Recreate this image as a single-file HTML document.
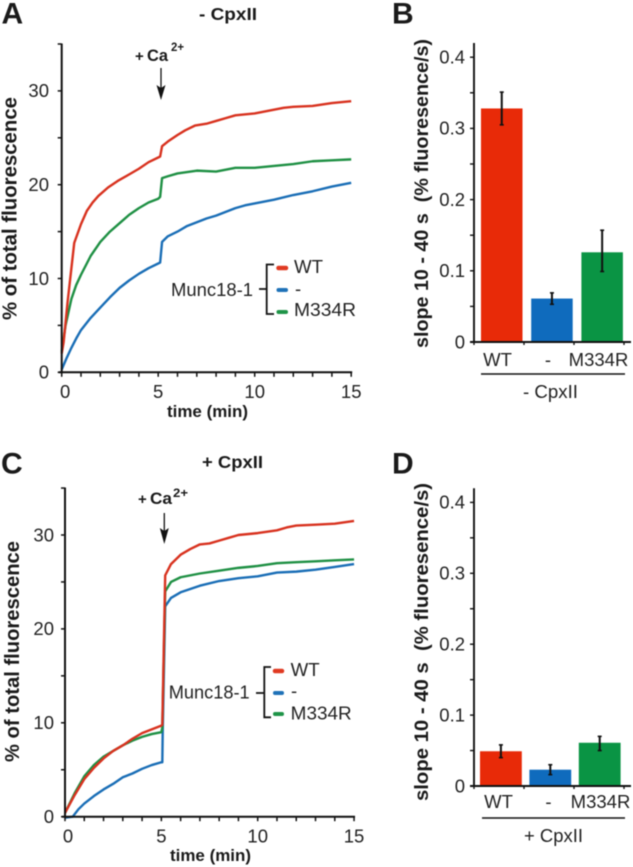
<!DOCTYPE html>
<html>
<head>
<meta charset="utf-8">
<title>Munc18-1 fluorescence charts</title>
<style>
html,body{margin:0;padding:0;background:#fff;width:633px;height:867px;overflow:hidden}
svg{display:block;filter:blur(.4px)}
text{font-family:"Liberation Sans",Arial,sans-serif;fill:#222;white-space:pre}
.b{font-weight:bold;fill:#1a1a1a}
</style>
</head>
<body>
<svg id="figure" width="633" height="867" viewBox="0 0 633 867" xmlns="http://www.w3.org/2000/svg">
  <text class="b" x="1.5" y="23.5" font-size="30">A</text>
  <text class="b" x="392" y="23.5" font-size="30">B</text>
  <text class="b" x="1" y="473.5" font-size="30">C</text>
  <text class="b" x="392" y="473.5" font-size="30">D</text>

  <text class="b" x="199" y="20" font-size="17.5" textLength="58" lengthAdjust="spacingAndGlyphs">- CpxII</text>
  <text class="b" x="202" y="468" font-size="17.5" textLength="61" lengthAdjust="spacingAndGlyphs">+ CpxII</text>

  <text class="b" transform="translate(16.5,320) rotate(-90)" font-size="20.5" textLength="223" lengthAdjust="spacingAndGlyphs">% of total fluorescence</text>
  <text class="b" transform="translate(19,762) rotate(-90)" font-size="20.5" textLength="221" lengthAdjust="spacingAndGlyphs">% of total fluorescence</text>
  <text class="b" transform="translate(428,348) rotate(-90)" font-size="19.5" textLength="309" lengthAdjust="spacingAndGlyphs">slope 10 - 40 s  (% fluoresence/s)</text>
  <text class="b" transform="translate(428,801) rotate(-90)" font-size="19.5" textLength="318" lengthAdjust="spacingAndGlyphs">slope 10 - 40 s  (% fluoresence/s)</text>

  <text class="b" x="167" y="417" font-size="16.5" textLength="81" lengthAdjust="spacingAndGlyphs">time (min)</text>
  <text class="b" x="170" y="861" font-size="16.5" textLength="81" lengthAdjust="spacingAndGlyphs">time (min)</text>

  <g>
    <text class="b" x="135" y="61" font-size="15">+</text>
    <text class="b" x="147" y="61" font-size="17" textLength="21" lengthAdjust="spacingAndGlyphs">Ca</text>
    <text class="b" x="171" y="51" font-size="12" textLength="13" lengthAdjust="spacingAndGlyphs">2+</text>
    <line x1="161" y1="68" x2="161" y2="90" stroke="#111" stroke-width="1.3"/>
    <path d="M156.5 85 L161 100 L165.5 85 L161 88 Z" fill="#111"/>
  </g>
  <g>
    <text class="b" x="138" y="504" font-size="15">+</text>
    <text class="b" x="150" y="504" font-size="17" textLength="22" lengthAdjust="spacingAndGlyphs">Ca</text>
    <text class="b" x="173" y="497" font-size="12" textLength="15" lengthAdjust="spacingAndGlyphs">2+</text>
    <line x1="164.3" y1="513" x2="164.3" y2="535" stroke="#111" stroke-width="1.3"/>
    <path d="M159.8 528 L164.3 544 L168.8 528 L164.3 531 Z" fill="#111"/>
  </g>

  <g>
    <text x="171" y="296" font-size="18.5" textLength="82" lengthAdjust="spacingAndGlyphs">Munc18-1</text>
    <path d="M274 264.5 H266.7 V314 H274 M259 289 H266.7" fill="none" stroke="#111" stroke-width="1.8"/>
    <line x1="278.5" x2="286" y1="268" y2="268" stroke="#e03a22" stroke-width="4.5" stroke-linecap="round"/>
    <line x1="278.5" x2="286" y1="290" y2="290" stroke="#1f72b8" stroke-width="4" stroke-linecap="round"/>
    <line x1="278.5" x2="286" y1="312" y2="312" stroke="#1f9448" stroke-width="4" stroke-linecap="round"/>
    <text x="294" y="273" font-size="18.5" textLength="29" lengthAdjust="spacingAndGlyphs">WT</text>
    <text x="295" y="295" font-size="18.5">-</text>
    <text x="294" y="316" font-size="18.5" textLength="62" lengthAdjust="spacingAndGlyphs">M334R</text>
  </g>
  <g>
    <text x="168.7" y="698.7" font-size="18.5" textLength="81" lengthAdjust="spacingAndGlyphs">Munc18-1</text>
    <path d="M271 667 H264.3 V717.3 H271 M256 693 H264.3" fill="none" stroke="#111" stroke-width="1.8"/>
    <line x1="275" x2="282" y1="671" y2="671" stroke="#e03a22" stroke-width="4.5" stroke-linecap="round"/>
    <line x1="275" x2="282" y1="693" y2="693" stroke="#1f72b8" stroke-width="4" stroke-linecap="round"/>
    <line x1="275" x2="282" y1="714" y2="714" stroke="#1f9448" stroke-width="4" stroke-linecap="round"/>
    <text x="290.7" y="676" font-size="18.5" textLength="29" lengthAdjust="spacingAndGlyphs">WT</text>
    <text x="291" y="697" font-size="18.5">-</text>
    <text x="290.7" y="719.3" font-size="18.5" textLength="61" lengthAdjust="spacingAndGlyphs">M334R</text>
  </g>

  <line x1="481" x2="625" y1="374" y2="374" stroke="#111" stroke-width="1.6"/>
  <text x="523" y="398" font-size="18" textLength="55" lengthAdjust="spacingAndGlyphs">- CpxII</text>
  <line x1="482" x2="625" y1="818" y2="818" stroke="#111" stroke-width="1.6"/>
  <text x="524" y="842" font-size="18" textLength="59" lengthAdjust="spacingAndGlyphs">+ CpxII</text>
</svg>
<script>
// Panel A (- CpxII) time courses: minutes and % of total fluorescence
const aRedTime = [0,0.1,0.3,0.65,1,1.3,1.6,1.9,2.4,2.9,3.5,4,4.5,5,5.1,5.2,5.5,6,6.4,6.9,7.5,8,8.5,9,10,11,11.5,12,13,14,15];
const aRedValues = [2,3.2,7.4,13.8,15.8,17.2,18.1,18.8,19.7,20.4,21.1,21.7,22.4,22.9,23,24.1,24.6,25.3,25.8,26.3,26.5,26.8,27.1,27.4,27.6,28,28.2,28.3,28.4,28.7,28.9];
const aGreenTime = [0,0.2,0.5,0.75,1,1.5,2,2.5,3,3.5,4,4.5,5,5.1,5.2,5.5,6,7,8,9,10,11,12,13,14,15];
const aGreenValues = [2.2,5,7.8,9.3,10.4,12.4,13.9,15,15.9,16.8,17.5,18.1,18.5,18.7,20.7,20.9,21.2,21.5,21.4,21.8,21.8,22,22.2,22.5,22.6,22.7];
const aBlueTime = [0,0.25,0.5,0.75,1,1.5,2,2.5,3,3.5,4,4.5,5,5.1,5.2,5.5,6,6.5,7,7.5,8,8.5,9,9.5,10,11,12,13,14,15];
const aBlueValues = [0.3,1.5,2.6,3.6,4.5,5.8,6.9,8,9,9.8,10.5,11.1,11.6,11.7,13.9,14.5,15,15.6,16,16.4,16.7,17.1,17.5,17.8,18,18.4,18.9,19.3,19.8,20.2];

// Panel C (+ CpxII) time courses
const cRedTime = [0,0.5,1,1.5,2,2.5,3,3.5,4,4.5,5,5.05,5.2,5.5,6,6.5,7,7.5,8,8.5,9,10,11,11.5,12,13,14,15];
const cRedValues = [0.4,2.3,4,5.2,6.2,7,7.6,8.3,8.9,9.3,9.7,9.8,25.7,26.9,27.9,28.5,29,29.1,29.4,29.7,30,30.2,30.5,30.8,31,31.1,31.2,31.5];
const cGreenTime = [0,0.5,1,1.5,2,2.5,3,3.5,4,4.5,5,5.05,5.2,5.5,6,7,8,9,10,11,12,13,14,15];
const cGreenValues = [0.4,2.5,4.3,5.5,6.4,7,7.6,8.1,8.5,8.8,9,9.5,24,25,25.5,25.9,26.2,26.5,26.7,27,27.1,27.2,27.3,27.4];
const cBlueTime = [0,0.4,0.7,1,1.5,2,2.5,3,3.5,4,4.5,5,5.05,5.07,5.2,5.5,6,7,8,9,10,11,12,13,14,15];
const cBlueValues = [-0.1,0,0.8,1.4,2.2,2.9,3.5,4.2,4.6,5.1,5.5,5.8,5.8,9,22.4,23.3,23.9,24.6,25.1,25.4,25.6,26,26.1,26.3,26.6,26.9];

// Bar panels: slope 10-40 s
const barCategories = ['WT','-','M334R'];
const bValues = [0.328,0.061,0.126];
const bErrLow = [0.305,0.053,0.099];
const bErrHigh = [0.351,0.069,0.157];
const dValues = [0.049,0.023,0.061];
const dErrLow = [0.04,0.016,0.05];
const dErrHigh = [0.058,0.03,0.07];

// Tick labels
const timeTickLabels = [0,5,10,15];
const percentTickLabels = [0,10,20,30];
const slopeTickLabels = ['0','0.1','0.2','0.3','0.4'];

const svg = document.getElementById('figure');
const NS = 'http://www.w3.org/2000/svg';
function make(tag, attrs, parent) {
  const el = document.createElementNS(NS, tag);
  for (const k in attrs) el.setAttribute(k, attrs[k]);
  parent.appendChild(el);
  return el;
}
const lineColors = {red:'#d8321f', green:'#1f9044', blue:'#1a6eb6'};
const barColors = ['#e82a08','#0f6bbd','#0a9444'];

function drawLinePanel(id, x0, xPer, y0, yPer, labelY, labelOffsetX, labelEnd, series) {
  const g = make('g', {}, svg);
  
  
  const X = t => x0 + t * xPer;
  const Y = v => y0 - v * yPer;

  series.forEach(s => {
    const d = s.time.map((t, i) => (i ? 'L' : 'M') + X(t).toFixed(2) + ' ' + Y(s.values[i]).toFixed(2)).join(' ');
    const p = make('path', {d: d, fill: 'none', stroke: s.color, 'stroke-width': 2.4, 'stroke-linejoin': 'round'}, g);
    
    
  });

  const yAxis = make('line', {x1: x0, x2: x0, y1: Y(35) - 0.5, y2: y0 + 1, stroke: '#111', 'stroke-width': 2}, g);
  
  
  const xAxis = make('line', {x1: x0 - 3, x2: X(15) + 1, y1: y0, y2: y0, stroke: '#111', 'stroke-width': 2}, g);
  
  

  for (let v = 0; v <= 35; v += 5) {
    const tick = make('line', {x1: x0 - 4, x2: x0, y1: Y(v), y2: Y(v), stroke: '#111', 'stroke-width': 1.5}, g);
    
    
  }
  for (let t = 0; t <= 15; t += 1) {
    const tick = make('line', {x1: X(t), x2: X(t), y1: y0, y2: y0 + 4.5, stroke: '#111', 'stroke-width': 1.5}, g);
    
    
  }
  percentTickLabels.forEach(v => {
    const t = make('text', {x: labelEnd, y: Y(v) + 6.3, 'font-size': 18.5, 'text-anchor': 'end'}, g);
    t.textContent = v;
    
    
  });
  timeTickLabels.forEach(v => {
    const t = make('text', {x: X(v) + (v === 0 ? labelOffsetX : 0), y: labelY, 'font-size': 18.5, 'text-anchor': 'middle'}, g);
    t.textContent = v;
    
    
  });
}

function drawBarPanel(id, y0, yPer, barStart, barWidth, barStep, labelY, labelXs, values, low, high) {
  const g = make('g', {}, svg);
  
  
  const x0 = 474;
  const Y = v => y0 - v * yPer;

  values.forEach((v, i) => {
    const bx = barStart + i * barStep;
    const r = make('rect', {x: bx, y: Y(v), width: barWidth, height: y0 - Y(v), fill: barColors[i]}, g);
    
    
    const cx = bx + barWidth / 2;
    const e = make('line', {x1: cx, x2: cx, y1: Y(high[i]), y2: Y(low[i]), stroke: '#111', 'stroke-width': 2}, g);
    
    
    [low[i], high[i]].forEach(c => {
      const cap = make('line', {x1: cx - 2, x2: cx + 2, y1: Y(c), y2: Y(c), stroke: '#111', 'stroke-width': 1.6}, g);
      
      
    });
    const lab = make('text', {x: labelXs(i), y: labelY, 'font-size': 18.5, 'text-anchor': 'middle'}, g);
    lab.textContent = barCategories[i];
    
    
  });

  const yAxis = make('line', {x1: x0, x2: x0, y1: Y(0.42), y2: y0 + 1, stroke: '#111', 'stroke-width': 1.9}, g);
  
  
  const xAxis = make('line', {x1: x0 - 4, x2: 631, y1: y0, y2: y0, stroke: '#111', 'stroke-width': 1.9}, g);
  
  
  for (let k = 0; k <= 8; k++) {
    const tick = make('line', {x1: x0 - 4, x2: x0, y1: Y(k * 0.05), y2: Y(k * 0.05), stroke: '#111', 'stroke-width': 1.4}, g);
    
    
  }
  for (let k = 0; k < 4; k++) {
    const tx = x0 + k * 50;
    const tick = make('line', {x1: tx, x2: tx, y1: y0, y2: y0 + 3, stroke: '#111', 'stroke-width': 1.4}, g);
    
    
  }
  slopeTickLabels.forEach(s => {
    const t = make('text', {x: 465, y: Y(parseFloat(s)) + 6.3, 'font-size': 18.5, 'text-anchor': 'end'}, g);
    t.textContent = s;
    
    
  });
}

drawLinePanel('panel-a', 61.7, 19.3, 372.3, 9.38, 398, 3.5, 49, [
  {name: 'blue', color: lineColors.blue, time: aBlueTime, values: aBlueValues},
  {name: 'green', color: lineColors.green, time: aGreenTime, values: aGreenValues},
  {name: 'red', color: lineColors.red, time: aRedTime, values: aRedValues}
]);
drawLinePanel('panel-c', 65, 19.27, 816.7, 9.39, 842.7, 3, 54, [
  {name: 'blue', color: lineColors.blue, time: cBlueTime, values: cBlueValues},
  {name: 'green', color: lineColors.green, time: cGreenTime, values: cGreenValues},
  {name: 'red', color: lineColors.red, time: cRedTime, values: cRedValues}
]);
drawBarPanel('panel-b', 342, 712, 481, 41.5, 50.2, 366, i => 497.5 + i * 50.5, bValues, bErrLow, bErrHigh);
drawBarPanel('panel-d', 786, 709, 480, 41.8, 49.4, 808, i => 498.5 + i * 50 + (i === 2 ? 2 : 0), dValues, dErrLow, dErrHigh);
</script>
</body>
</html>
